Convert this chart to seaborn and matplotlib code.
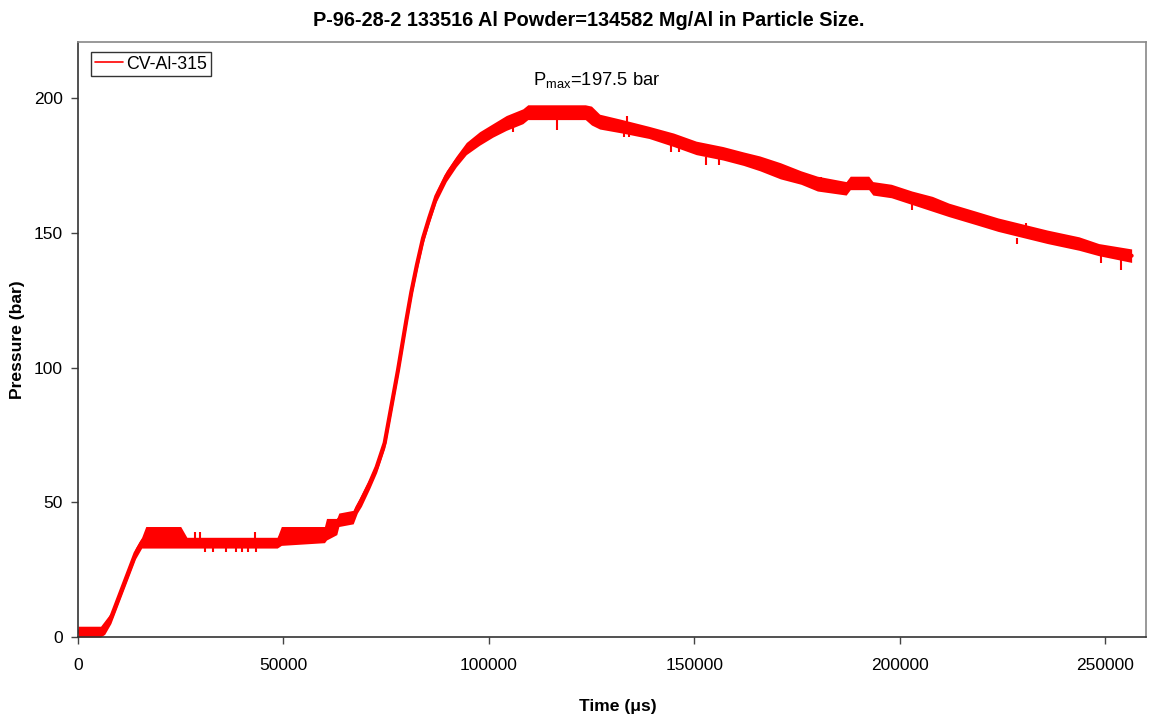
import numpy as np
import pandas as pd
import matplotlib
matplotlib.use("Agg")
import matplotlib.pyplot as plt
import seaborn as sns

# Pressure trace of the constant-volume vessel shot CV-Al-315.
# The recorder output is quantised and noisy, so each sample time keeps the
# lower and upper edge of the recorded band.
time_us = [0, 5500, 6500, 8000, 10000, 12000, 14000, 15500, 16500, 25000,
           26500, 48500, 49500, 60000, 60500, 63000, 63500, 67000, 68000, 69000,
           71000, 72700, 74660, 76280, 77900, 79930, 81150, 82500, 84000, 85500,
           87230, 89660, 92090, 94520, 97760, 101000, 104250, 108300, 109500, 123500,
           125000, 127000, 132500, 139000, 145000, 150500, 157000, 162000, 166000, 171000,
           176000, 180000, 187000, 188000, 192500, 193500, 198000, 203000, 208000, 212000,
           218600, 224000, 236000, 243700, 248500, 256500]
pressure_low = [0, 0, 1, 5, 13, 21, 29, 33, 33, 33,
                33, 33, 34, 35, 36, 38, 41, 42, 46, 48.5,
                55, 61, 70, 83.5, 97, 115.5, 126, 136, 146, 153.5,
                161.5, 169, 174.5, 179, 182.5, 185.5, 188, 190.5, 192, 192,
                190, 188.5, 187, 185, 182, 179, 177, 175, 173, 170,
                168, 165.5, 164, 166, 166, 164, 163, 160.5, 158, 156,
                153, 150.5, 146, 143.5, 141.5, 139]
pressure_high = [4, 4, 6, 9, 17, 25, 33, 37, 41, 41,
                 37, 37, 41, 41, 44, 44, 46, 47, 50, 53,
                 59, 65, 74, 87.5, 101, 119.5, 130, 140, 150, 157.5,
                 165.5, 173, 178.5, 183.5, 187.5, 190.5, 193.5, 196, 197.5, 197.5,
                 197, 194, 192, 189.5, 187, 184, 182, 180, 178.5, 176,
                 173, 171, 169, 171, 171, 169, 168, 165.5, 163.5, 161,
                 158, 155.5, 151, 148.5, 146, 144]

# Isolated single-sample glitches outside the band
spike_time = [28500, 29700, 30900, 32800, 36000, 38400, 40000, 41500, 43000, 43300,
              105800, 116500, 133000, 133700, 134200, 144400, 146400, 153000, 156000,
              181000, 203000, 228500, 230800, 249000, 253900]
spike_from = [35, 35, 35, 35, 35, 35, 35, 35, 35, 35,
              191, 193, 188, 190, 188, 183, 183, 178, 178,
              167, 161, 148, 150, 142, 140]
spike_to = [39, 39, 31.5, 31.5, 31.5, 31.5, 31.5, 31.5, 39, 31.5,
            187.5, 188, 185.6, 193.5, 185.6, 180, 180, 175, 175,
            170.8, 158.4, 145.8, 153.7, 138.9, 136.2]

series_name = "CV-Al-315"
p_max = 197.5
title = "P-96-28-2 133516 Al Powder=134582 Mg/Al in Particle Size."

trace = pd.DataFrame({"time": time_us, "low": pressure_low, "high": pressure_high})
trace["pressure"] = (trace["low"] + trace["high"]) / 2

sns.set_theme(style="ticks")
plt.rcParams["font.family"] = ["Liberation Sans", "DejaVu Sans"]
plt.rcParams["mathtext.fontset"] = "custom"
plt.rcParams["mathtext.rm"] = "Liberation Sans"
plt.rcParams["mathtext.it"] = "Liberation Sans"
for key in ["text.color", "axes.labelcolor", "xtick.labelcolor", "ytick.labelcolor"]:
    plt.rcParams[key] = "black"

fig = plt.figure(figsize=(11.49, 7.16), dpi=100)
ax = fig.add_axes([78 / 1149, 79 / 716, 1068 / 1149, 595 / 716])

red = "#ff0000"
ax.fill_between(trace["time"], trace["low"], trace["high"], color=red, lw=0)
sns.lineplot(data=trace, x="time", y="pressure", ax=ax, color=red,
             linewidth=3.0, label=series_name, legend=False)
ax.vlines(spike_time, spike_from, spike_to, color=red, linewidth=1.5)

ax.set_xlim(0, 260000)
ax.set_ylim(0, 220.8)
ax.set_xticks(np.arange(0, 250001, 50000))
ax.set_yticks(np.arange(0, 201, 50))
ax.tick_params(axis="both", direction="out", length=5, width=1, color="#444444",
               labelsize=12.5, pad=6)
ax.tick_params(axis="x", pad=10)
for side in ["top", "right"]:
    ax.spines[side].set_color("#888888")
for side in ["left", "bottom"]:
    ax.spines[side].set_color("#333333")
for s in ax.spines.values():
    s.set_linewidth(1.2)

ax.set_xlabel("Time (μs)", fontsize=12.6, fontweight="bold")
ax.set_ylabel("Pressure (bar)", fontsize=12.6, fontweight="bold")
ax.xaxis.set_label_coords(0.505, -0.104)
ax.yaxis.set_label_coords(-0.05, 0.5)

fig.text(589 / 1149, 1 - 20 / 716, title, ha="center", va="center",
         fontsize=14.3, fontweight="bold")

ax.text(126200, 206.7, r"P$_{\mathrm{max}}$=" + f"{p_max} bar", ha="center",
        va="center", fontsize=13.2)

handle = plt.Line2D([], [], color=red, lw=1.2)
leg = ax.legend([handle], [series_name], loc="upper left",
                bbox_to_anchor=(13 / 1068, 1 - 10 / 595), fontsize=12.8,
                frameon=True, fancybox=False, borderpad=0.2, handlelength=1.6,
                handletextpad=0.2, borderaxespad=0)
leg.get_frame().set_edgecolor("black")
leg.get_frame().set_linewidth(1)

fig.savefig("out.png", dpi=100, facecolor="white")
